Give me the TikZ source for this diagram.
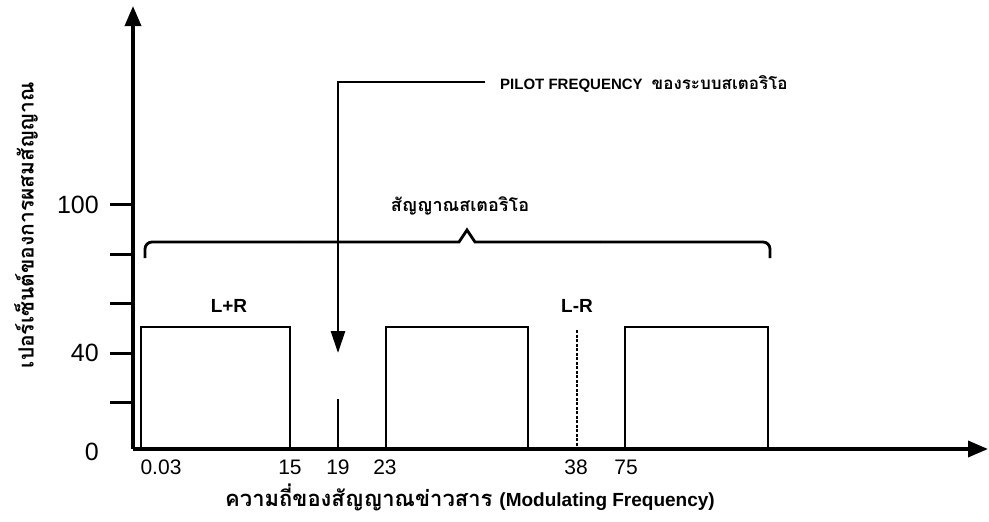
\documentclass[tikz,border=0pt]{standalone}
\usepackage{fontspec}
\setmainfont{Liberation Sans}
\newfontfamily\thai[Script=Thai]{Loma}
\usetikzlibrary{arrows.meta}
\tikzset{
  axisline/.style={line width=3.4pt},
  boxline/.style={line width=2.8pt},
  tickline/.style={line width=3pt},
  ticklab/.style={font=\fontsize{21}{21}\selectfont, inner sep=0pt},
  ylab/.style={font=\fontsize{25}{25}\selectfont, inner sep=0pt, anchor=east},
  thaitext/.style={font=\thai\bfseries\fontsize{18}{18}\selectfont, inner sep=0pt},
}
\begin{document}
\begin{tikzpicture}[x=1pt,y=-1pt]
\useasboundingbox (0,0) rectangle (989,522);
\fill[white] (0,0) rectangle (989,522);
% axes
\coordinate (O) at (133,449);
\coordinate (ytip) at (133,6);
\coordinate (xtip) at (988,449);
\draw[axisline,-{Triangle[length=20pt,width=16pt]}] (O) -- (ytip);
\draw[axisline,-{Triangle[length=20pt,width=16pt]}] (O) -- (xtip);
% y ticks
\foreach \yy/\nm in {204/a,254/b,303/c,353/d,402/e}{
  \coordinate (t\nm) at (110,\yy);
  \coordinate (u\nm) at (133,\yy);
  \draw[tickline] (t\nm) -- (u\nm);
}
\node[ylab] (l100) at (99,205) {100};
\node[ylab] (l40) at (99,353) {40};
\node[ylab] (l0) at (99,452) {0};
% y axis title
\node[thaitext, rotate=90, font=\thai\bfseries\fontsize{21}{21}\selectfont] (ytitle) at (26,225) {เปอร์เซ็นต์ของการผสมสัญญาณ};
% boxes
\draw[boxline] (141,449) -- (141,327) -- (290,327) -- (290,449);
\draw[boxline] (386,449) -- (386,327) -- (528,327) -- (528,449);
\draw[boxline] (625,449) -- (625,327) -- (768,327) -- (768,449);
\node[font=\fontsize{19}{19}\selectfont\bfseries, inner sep=0pt] (lpr) at (229,306) {L+R};
\node[font=\fontsize{19}{19}\selectfont\bfseries, inner sep=0pt] (lmr) at (577,306) {L-R};
\draw[line width=1.8pt, dash pattern=on 3pt off 1.5pt] (577,330) -- (577,449);
% pilot
\coordinate (pa) at (485,82);
\coordinate (pb) at (338,82);
\coordinate (pc) at (338,353);
\draw[boxline,-{Triangle[length=22pt,width=14pt]}] (pa) -- (pb) -- (pc);
\draw[boxline] (338,399) -- (338,449);
\node[inner sep=0pt, anchor=west] (pilot) at (500,84) {\fontsize{15}{15}\selectfont\bfseries PILOT FREQUENCY\hspace{9pt}{\thai\fontsize{17}{17}\selectfont ของระบบสเตอริโอ}};
% brace
\draw[line width=2.8pt, rounded corners=7pt] (145,258) -- (145,242) -- (300,242);
\draw[line width=2.8pt] (300,242) -- (459,242) -- (467,230) -- (475,242) -- (600,242);
\draw[line width=2.8pt, rounded corners=7pt] (600,242) -- (770,242) -- (770,258);
\node[thaitext] (stereo) at (460,206) {สัญญาณสเตอริโอ};
% x labels
\node[ticklab] (x003) at (161,467) {0.03};
\node[ticklab] (x15) at (290,467) {15};
\node[ticklab] (x19) at (338,467) {19};
\node[ticklab] (x23) at (385,467) {23};
\node[ticklab] (x38) at (576,467) {38};
\node[ticklab] (x75) at (626,467) {75};
\node[inner sep=0pt] (xtitle) at (470,497) {{\thai\bfseries\fontsize{22}{22}\selectfont ความถี่ของสัญญาณข่าวสาร}\hspace{7pt}{\fontsize{19}{19}\selectfont\bfseries (Modulating Frequency)}};
\end{tikzpicture}
\end{document}
